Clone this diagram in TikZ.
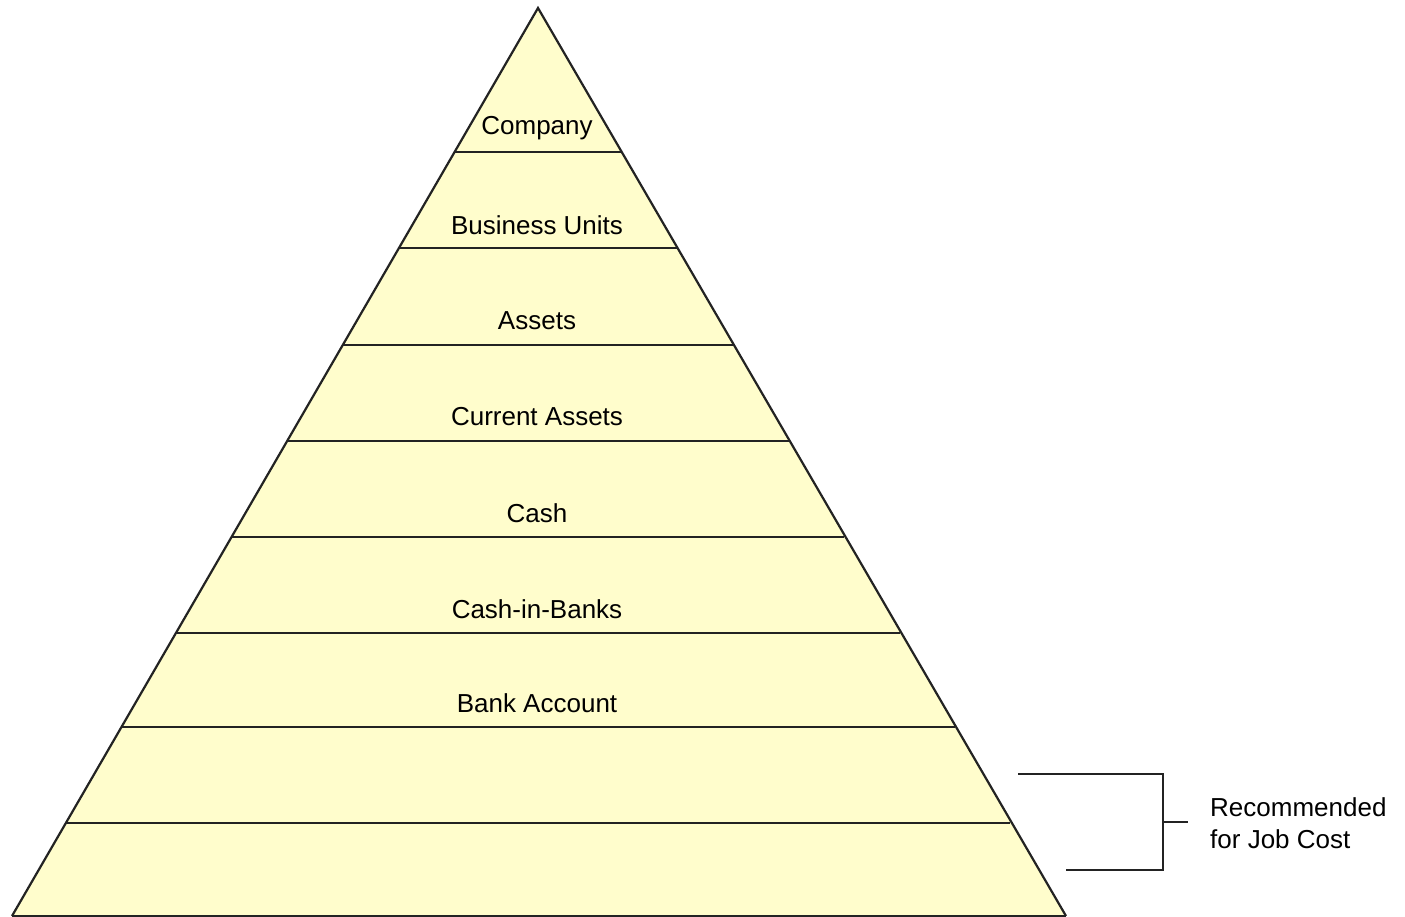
\documentclass[tikz,border=0pt]{standalone}
\usepackage{fontspec}
\setmainfont{Liberation Sans}
\definecolor{pyrfill}{RGB}{255,253,204}
\definecolor{inkline}{RGB}{35,35,35}
\begin{document}
\begin{tikzpicture}[x=1pt,y=-1pt,
  edge/.style={draw=inkline,line width=2.2pt},
  band/.style={draw=inkline,line width=2.2pt},
  lvl/.style={font=\fontsize{26}{30}\selectfont,text=black,inner sep=0pt,anchor=center},
  note/.style={font=\fontsize{26}{32}\selectfont,text=black,align=left,inner sep=0pt,anchor=west}]
\useasboundingbox (0,0) rectangle (1405,917);
% pyramid outline
\coordinate (apex) at (538,8);
\coordinate (bl) at (12,916);
\coordinate (br) at (1066,916);
\fill[pyrfill] (apex) -- (bl) -- (br) -- cycle;
% band dividers: x on the sides follows the slope 526/908
\foreach \y in {152,248,345,441,537,633,727,823}{
  \pgfmathsetmacro{\dx}{(\y-8)/908*526}
  \draw[band] ({538-\dx},\y) -- ({538+\dx},\y);
}
\draw[edge,line join=miter] (bl) -- (apex) -- (br);
\draw[edge] (bl) -- (br);
% level labels
\node[lvl] (company) at (537,128) {Company};
\node[lvl] (bu) at (537,225) {Business Units};
\node[lvl] (assets) at (537,321) {Assets};
\node[lvl] (cur) at (537,417) {Current Assets};
\node[lvl] (cash) at (537,513) {Cash};
\node[lvl] (cib) at (537,609) {Cash-in-Banks};
\node[lvl] (bank) at (537,703) {Bank Account};
% bracket for the two lowest levels
\coordinate (bt) at (1018,774);
\coordinate (bb) at (1066,870);
\coordinate (tick) at (1188,822);
\draw[band] (bt) -- (1163,774) -- (1163,870) -- (bb);
\draw[band] (1163,822) -- (tick);
\node[note] (rec) at (1210,823) {Recommended\\for Job Cost};
\end{tikzpicture}
\end{document}
